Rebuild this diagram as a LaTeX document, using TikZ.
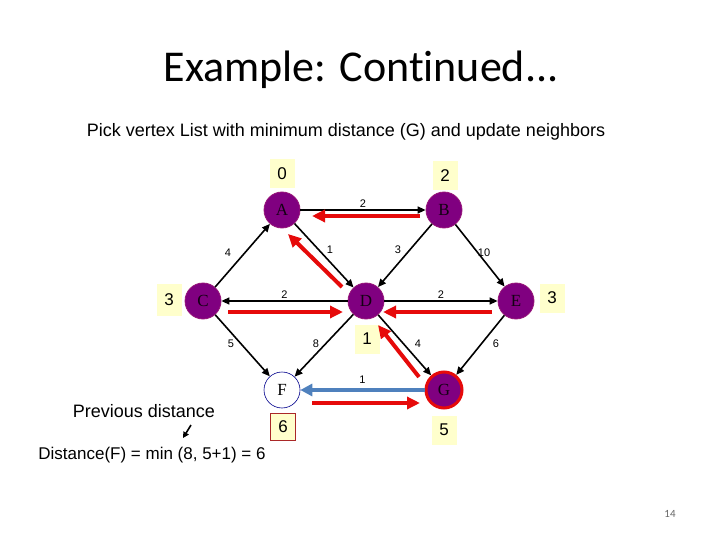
\documentclass[tikz,border=0pt]{standalone}
\usepackage{fontspec}
\setmainfont{Liberation Sans}
\newfontfamily\titlefont[Ligatures=NoCommon]{Carlito}
\newfontfamily\serifnode{Liberation Serif}
\usetikzlibrary{arrows.meta,calc}
\definecolor{vpurple}{RGB}{128,0,128}
\definecolor{vborder}{RGB}{150,20,120}
\definecolor{boxyellow}{RGB}{255,255,204}
\definecolor{redarr}{RGB}{230,10,10}
\definecolor{bluearr}{RGB}{79,129,189}
\definecolor{boxred}{RGB}{170,40,40}
\definecolor{fborder}{RGB}{0,0,140}
\begin{document}
\begin{tikzpicture}[x=1pt,y=-1pt,
  vert/.style={circle,minimum size=36pt,inner sep=0pt,fill=vpurple,draw=vborder,line width=0.8pt,font=\serifnode\fontsize{17}{17}\selectfont,text=black!85!vpurple},
  fvert/.style={circle,minimum size=36pt,inner sep=0pt,fill=white,draw=fborder,line width=0.6pt,font=\serifnode\fontsize{17}{17}\selectfont},
  dist/.style={fill=boxyellow,minimum width=25pt,minimum height=29pt,inner sep=0pt,font=\fontsize{17}{17}\selectfont},
  edge/.style={line width=1.6pt,-{Triangle[length=8pt,width=7pt]}},
  redline/.style={draw=redarr,line width=4pt,-{Triangle[length=13pt,width=12pt]}},
  blueline/.style={draw=bluearr,line width=4.5pt,-{Triangle[length=12pt,width=12pt]}},
  wt/.style={font=\fontsize{11}{11}\selectfont,inner sep=1pt},
  txt/.style={font=\fontsize{18}{20}\selectfont,inner sep=0pt}]
\useasboundingbox (0,0) rectangle (720,540);
% title
\node[font=\titlefont\fontsize{44}{46}\selectfont] (title) at (361,70) {Example: Continued...};
\node[txt] (sub) at (346,132) {Pick vertex List with minimum distance (G) and update neighbors};
% vertices
\node[vert] (A) at (282,210) {A};
\node[vert] (B) at (444,210) {B};
\node[vert] (C) at (203,301) {C};
\node[vert] (D) at (366,301) {D};
\node[vert] (E) at (516,301) {E};
\node[fvert] (F) at (282,390) {F};
\node[vert,draw=redarr,line width=3pt] (G) at (444,390) {G};
% distance boxes
\node[dist] (dA) at (282,174) {0};
\node[dist] (dB) at (445,176) {2};
\node[dist,minimum height=32pt] (dC) at (169,300) {3};
\node[dist] (dE) at (552,298) {3};
\node[dist] (dD) at (367,339) {1};
\node[dist,draw=boxred,line width=1.5pt,minimum height=27pt] (dF) at (283,427) {6};
\node[dist] (dG) at (444,430) {5};
% black edges
\draw[edge] (A) -- node[wt,above=1pt] {2} (B);
\draw[edge] (C) -- (A);
\draw[edge] (A) -- (D);
\draw[edge] (B) -- (D);
\draw[edge] (B) -- (E);
\draw[edge] (D) -- node[wt,above=1pt] {2} (C);
\draw[edge] (D) -- node[wt,above=1pt] {2} (E);
\draw[edge] (C) -- (F);
\draw[edge] (D) -- (F);
\draw[edge] (D) -- (G);
\draw[edge] (E) -- (G);
\draw[blueline] (G) -- node[wt,above=3pt] {1} (F);
% weight labels
\node[wt] (w4) at (228,253) {4};
\node[wt] (w1) at (330,250) {1};
\node[wt] (w3) at (398,250) {3};
\node[wt] (w10) at (484,253) {10};
\node[wt] (w5) at (231,344) {5};
\node[wt] (w8) at (316,344) {8};
\node[wt] (w4b) at (418,344) {4};
\node[wt] (w6) at (496,344) {6};
% red arrows
\draw[redline] ([shift={(-24,6)}]B.center) -- ([shift={(30,6)}]A.center);
\draw[redline] ([shift={(-24,-14)}]D.center) -- ([shift={(6,24)}]A.center);
\draw[redline] ([shift={(25,11)}]C.center) -- ([shift={(-23,11)}]D.center);
\draw[redline] ([shift={(-24,11)}]E.center) -- ([shift={(17,11)}]D.center);
\draw[redline] ([shift={(-25,-13)}]G.center) -- ([shift={(12,24)}]D.center);
\draw[redline] ([shift={(30,13)}]F.center) -- ([shift={(-24,13)}]G.center);
% notes
\node[txt] (prev) at (144,411) {Previous distance};
\coordinate (pa) at (191,425);
\coordinate (pb) at (183,438);
\draw[line width=1.6pt,-{Triangle[length=6pt,width=6pt]}] (pa) -- (pb);
\node[txt,font=\fontsize{17}{19}\selectfont] (formula) at (152,455) {Distance(F) = min (8, 5+1) = 6};
\node[font=\titlefont\fontsize{11}{11}\selectfont,text=black!60] (pg) at (670,514) {14};
\end{tikzpicture}
\end{document}
